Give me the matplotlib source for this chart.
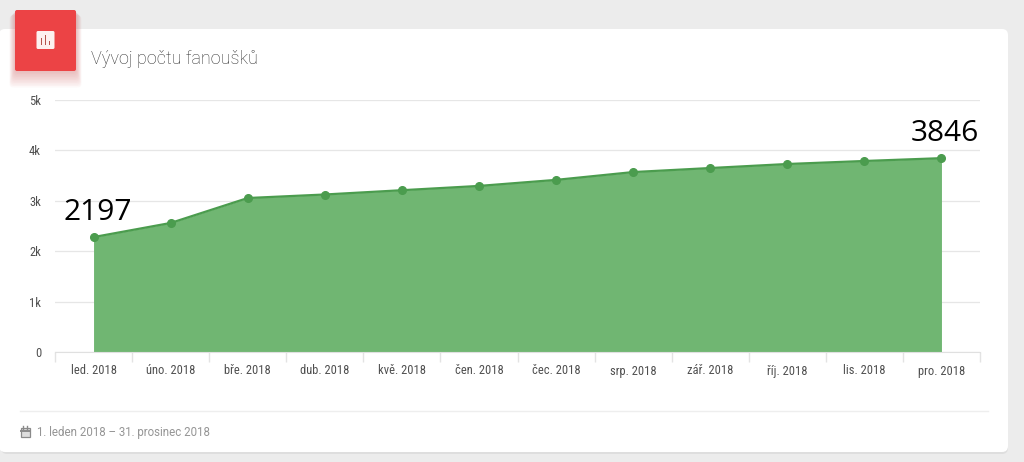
import matplotlib
matplotlib.use('Agg')
import matplotlib.pyplot as plt
from matplotlib.patches import FancyBboxPatch, Rectangle
from matplotlib import font_manager

months = ['led. 2018', 'úno. 2018', 'bře. 2018', 'dub. 2018', 'kvě. 2018', 'čen. 2018',
          'čec. 2018', 'srp. 2018', 'zář. 2018', 'říj. 2018', 'lis. 2018', 'pro. 2018']
fans = [2280, 2560, 3055, 3125, 3210, 3295, 3415, 3570, 3650, 3730, 3790, 3846]
y_ticks = [0, 1000, 2000, 3000, 4000, 5000]
y_labels = ['0', '1k', '2k', '3k', '4k', '5k']
first_label = '2197'
last_label = '3846'
title = 'Vývoj počtu fanoušků'
date_range = '1. leden 2018 – 31. prosinec 2018'

W, H = 1024, 462

# axis labels are a condensed face in the original, take one if there is any
installed = {f.name for f in font_manager.fontManager.ttflist}
narrow, label_size = 'Liberation Sans', 8.6
for name in ['Roboto Condensed', 'Open Sans Condensed', 'Liberation Sans Narrow', 'Noto Sans Condensed']:
    if name in installed:
        narrow, label_size = name, 9
        break

fig = plt.figure(figsize=(W / 100, H / 100), dpi=100, facecolor='#ececec')

# page furniture, in pixel coordinates
bg = fig.add_axes([0, 0, 1, 1], zorder=0)
bg.set_xlim(0, W)
bg.set_ylim(H, 0)
bg.axis('off')

# card shadow and card
bg.add_patch(FancyBboxPatch((1, 31), 1007, 423, boxstyle='round,pad=0,rounding_size=6',
                            fc='#dedede', ec='none'))
bg.add_patch(FancyBboxPatch((-1, 29), 1009, 423, boxstyle='round,pad=0,rounding_size=6',
                            fc='white', ec='none'))

# red icon with a soft shadow
for off in range(1, 12):
    bg.add_patch(FancyBboxPatch((15 - off / 2, 10 + off / 2), 61 + off, 61 + off,
                                boxstyle='round,pad=0,rounding_size=4', fc='#c84a4a', ec='none', alpha=0.035))
bg.add_patch(FancyBboxPatch((15, 10), 61, 61, boxstyle='round,pad=0,rounding_size=2',
                            fc='#ec4345', ec='none'))
bg.add_patch(FancyBboxPatch((36.5, 31), 18, 18, boxstyle='round,pad=0,rounding_size=1.5',
                            fc='#fdf1ef', ec='none'))
for bx, top in [(41, 38), (45, 35), (49, 41)]:
    bg.add_patch(Rectangle((bx, top), 1.3, 45 - top, fc='#b5544c', ec='none'))

bg.text(91, 58.5, title, fontsize=13, family='Roboto', weight='light', color='#333333', va='center')

# footer
bg.plot([20, 988], [410.5, 410.5], color='#eeeeee', lw=1)
bg.add_patch(Rectangle((20.5, 428), 9, 9, fc='#dddddd', ec='#8a8a8a', lw=0.9))
bg.plot([20.5, 29.5], [431, 431], color='#8a8a8a', lw=1.4)
bg.plot([23, 23], [426, 429], color='#8a8a8a', lw=1)
bg.plot([27, 27], [426, 429], color='#8a8a8a', lw=1)
bg.text(37, 432.5, date_range, fontsize=8.3, family='Roboto', color='#959595', va='center')

# chart
ax = fig.add_axes([55 / W, 1 - 352 / H, 925 / W, 252 / H], zorder=1)
ax.patch.set_alpha(0)
x = [i + 0.5 for i in range(len(months))]
ax.fill_between(x, fans, 0, color='#70b672', lw=0, zorder=2)
ax.plot(x, fans, color='#4b9c4e', lw=1.6, marker='o', ms=5.5, mfc='#4b9c4e', mec='#4b9c4e', zorder=3)

ax.set_xlim(0, len(months))
ax.set_ylim(0, 5000)
ax.set_yticks(y_ticks)
ax.set_yticklabels(y_labels, family=narrow, fontsize=label_size, color='#4f4f4f')
ax.tick_params(axis='y', length=0, pad=10)
ax.set_xticks(range(len(months) + 1))
ax.set_xticklabels([])
ax.set_xticks(x, minor=True)
ax.set_xticklabels(months, minor=True, family=narrow, fontsize=label_size, color='#4f4f4f')
ax.tick_params(axis='x', which='major', length=7, color='#e3e3e3', width=1)
ax.tick_params(axis='x', which='minor', length=0, pad=9)
ax.grid(axis='y', color='#e6e6e6', lw=0.9, zorder=1)
ax.set_axisbelow(True)
for side in ['top', 'right', 'left']:
    ax.spines[side].set_visible(False)
ax.spines['bottom'].set_color('#e0e0e0')
ax.spines['bottom'].set_zorder(4)

ax.annotate(first_label, (x[0], fans[0]), xytext=(3, 7), textcoords='offset points',
            ha='center', va='bottom', fontsize=21.5, family='Open Sans', color='black', zorder=5)
ax.annotate(last_label, (x[-1], fans[-1]), xytext=(2.7, 7.5), textcoords='offset points',
            ha='center', va='bottom', fontsize=21.5, family='Open Sans', color='black', zorder=5)

fig.savefig('out.png', dpi=100, facecolor=fig.get_facecolor())
